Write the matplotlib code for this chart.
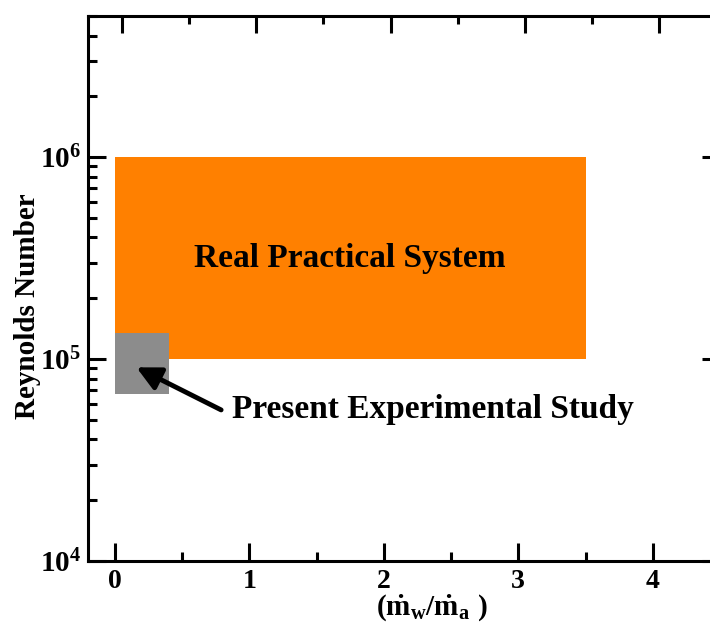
import math
import matplotlib
matplotlib.use("Agg")
import matplotlib.pyplot as plt
from matplotlib.patches import Rectangle
from matplotlib.ticker import FixedLocator, LogLocator, NullFormatter, FuncFormatter

plt.rcParams['font.family'] = ['Liberation Serif', 'DejaVu Serif']
plt.rcParams['font.weight'] = 'bold'
plt.rcParams['mathtext.fontset'] = 'custom'
plt.rcParams['mathtext.rm'] = 'Liberation Serif:bold'
plt.rcParams['mathtext.it'] = 'Liberation Serif:bold'
plt.rcParams['mathtext.bf'] = 'Liberation Serif:bold'

# regions: (x0, x1, y0, y1)
practical = (0.0, 3.5, 1e5, 1e6)
present = (0.0, 0.4, 0.67e5, 1.35e5)
practical_label = "Real Practical System"
present_label = "Present Experimental Study"
x_major = [0, 1, 2, 3, 4]
x_minor = [0.5, 1.5, 2.5, 3.5]

fig = plt.figure(figsize=(7.1, 6.24), dpi=100)
ax = fig.add_axes([88/710, 1 - 561/624, (720 - 88)/710, (561 - 16)/624])

ax.set_yscale('log')
ax.set_xlim(-0.2, 4.5)
ax.set_ylim(1e4, 5e6)

x0, x1, y0, y1 = practical
ax.add_patch(Rectangle((x0, y0), x1 - x0, y1 - y0, facecolor='#ff8000', edgecolor='none', zorder=1))
x0, x1, y0, y1 = present
ax.add_patch(Rectangle((x0, y0), x1 - x0, y1 - y0, facecolor='#8c8c8c', edgecolor='none', zorder=2))

ax.text(1.75, 3.16e5, practical_label, ha='center', va='center', fontsize=24, fontweight='bold')
ax.text(0.87, 0.565e5, present_label, ha='left', va='center', fontsize=24, fontweight='bold')
# arrow pointing at the grey box
ax.annotate('', xy=(0.16, 0.91e5), xytext=(0.79, 0.56e5),
            arrowprops=dict(arrowstyle='-|>', color='black', lw=3.5, mutation_scale=36,
                            shrinkA=0, shrinkB=0))

ax.xaxis.set_major_locator(FixedLocator(x_major))
ax.xaxis.set_minor_locator(FixedLocator(x_minor))
ax.yaxis.set_major_locator(LogLocator(base=10, numticks=10))
ax.yaxis.set_minor_locator(LogLocator(base=10, subs=range(2, 10), numticks=20))
ax.yaxis.set_minor_formatter(NullFormatter())
ax.yaxis.set_major_formatter(FuncFormatter(lambda v, p: r'$\mathbf{10^{%d}}$' % round(math.log10(v))))

ax.tick_params(which='both', direction='in', width=2.2, labelsize=20, right=True, top=False)
ax.tick_params(which='major', length=13)
ax.tick_params(which='minor', length=6.5)
ax.tick_params(axis='x', pad=6)
ax.tick_params(axis='y', pad=5, labelsize=21)
for s in ax.spines.values():
    s.set_linewidth(2.2)

# top ticks are slightly offset in the original
top = ax.twiny()
top.set_xlim(-0.25, 4.45)
top.xaxis.set_major_locator(FixedLocator(x_major))
top.xaxis.set_minor_locator(FixedLocator(x_minor))
top.tick_params(which='both', direction='in', width=2.2, labeltop=False)
top.tick_params(which='major', length=12)
top.tick_params(which='minor', length=6)

ax.set_xlabel(r'$\mathrm{(\dot{m}_w/\dot{m}_a\ )}$', fontsize=21)
ax.xaxis.set_label_coords(0.544, -0.058)
ax.set_ylabel('Reynolds Number', fontsize=21, fontweight='bold')
ax.yaxis.set_label_coords(-0.074, 0.468)

fig.savefig('out.png', dpi=100)
